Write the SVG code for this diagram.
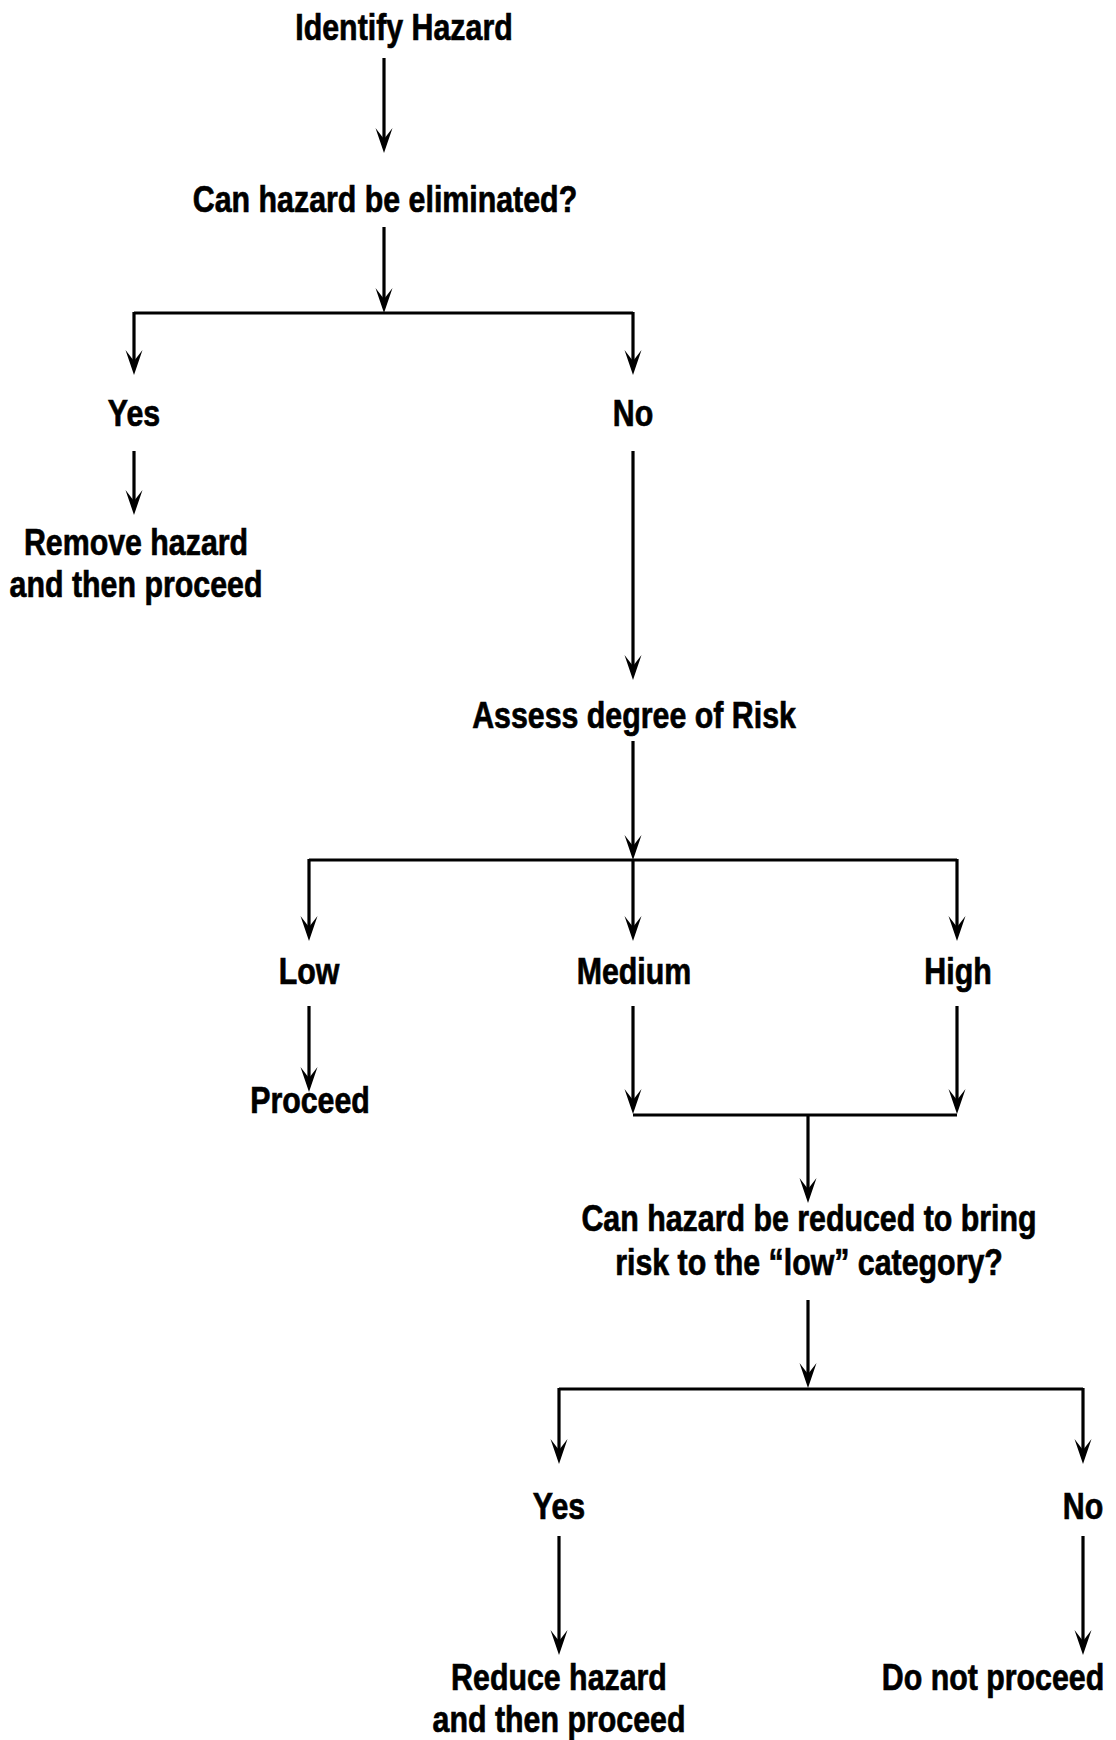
<svg xmlns="http://www.w3.org/2000/svg" width="1116" height="1740" viewBox="0 0 1116 1740">
  <style>
    .t { font-family: "Liberation Sans", Arial, sans-serif; font-weight: bold; font-size: 37px; fill: #000; stroke: #000; stroke-width: 0.7; text-anchor: middle; }
    .c { stroke: #000; stroke-width: 3.2; fill: none; }
  </style>
  <defs>
    <marker id="ah" markerUnits="userSpaceOnUse" viewBox="0 -9 26 18" markerWidth="26" markerHeight="18" refX="13" refY="0" orient="auto">
      <path d="M25,0 L0,-8.5 L11,0 L0,8.5 Z" fill="#000"/>
    </marker>
  </defs>
  <rect width="1116" height="1740" fill="#fff"/>

  <g id="connectors">
    <line class="c" x1="384" y1="58" x2="384" y2="141" marker-end="url(#ah)"/>
    <line class="c" x1="384" y1="227" x2="384" y2="301" marker-end="url(#ah)"/>
    <line class="c" x1="134" y1="313" x2="633" y2="313"/>
    <line class="c" x1="134" y1="312" x2="134" y2="363" marker-end="url(#ah)"/>
    <line class="c" x1="633" y1="312" x2="633" y2="363" marker-end="url(#ah)"/>
    <line class="c" x1="134" y1="451" x2="134" y2="503" marker-end="url(#ah)"/>
    <line class="c" x1="633" y1="451" x2="633" y2="668" marker-end="url(#ah)"/>
    <line class="c" x1="633" y1="741" x2="633" y2="848" marker-end="url(#ah)"/>
    <line class="c" x1="309" y1="860" x2="957" y2="860"/>
    <line class="c" x1="309" y1="859" x2="309" y2="929" marker-end="url(#ah)"/>
    <line class="c" x1="633" y1="859" x2="633" y2="929" marker-end="url(#ah)"/>
    <line class="c" x1="957" y1="859" x2="957" y2="929" marker-end="url(#ah)"/>
    <line class="c" x1="309" y1="1006" x2="309" y2="1080" marker-end="url(#ah)"/>
    <line class="c" x1="633" y1="1006" x2="633" y2="1102" marker-end="url(#ah)"/>
    <line class="c" x1="957" y1="1006" x2="957" y2="1102" marker-end="url(#ah)"/>
    <line class="c" x1="633" y1="1115" x2="957" y2="1115"/>
    <line class="c" x1="808" y1="1115" x2="808" y2="1191" marker-end="url(#ah)"/>
    <line class="c" x1="808" y1="1300" x2="808" y2="1376" marker-end="url(#ah)"/>
    <line class="c" x1="559" y1="1389" x2="1083" y2="1389"/>
    <line class="c" x1="559" y1="1388" x2="559" y2="1452" marker-end="url(#ah)"/>
    <line class="c" x1="1083" y1="1388" x2="1083" y2="1452" marker-end="url(#ah)"/>
    <line class="c" x1="559" y1="1536" x2="559" y2="1643" marker-end="url(#ah)"/>
    <line class="c" x1="1083" y1="1536" x2="1083" y2="1643" marker-end="url(#ah)"/>
  </g>

  <g id="identify-hazard"><text class="t" transform="translate(404,40) scale(0.82,1)">Identify Hazard</text></g>
  <g id="can-eliminate"><text class="t" transform="translate(385,212) scale(0.82,1)">Can hazard be eliminated?</text></g>
  <g id="yes-1"><text class="t" transform="translate(134,426) scale(0.82,1)">Yes</text></g>
  <g id="no-1"><text class="t" transform="translate(633,426) scale(0.82,1)">No</text></g>
  <g id="remove-hazard"><text class="t" transform="translate(136,555) scale(0.82,1)"><tspan x="0" y="0">Remove hazard</tspan><tspan x="0" y="42">and then proceed</tspan></text></g>
  <g id="assess-risk"><text class="t" transform="translate(634,728) scale(0.82,1)">Assess degree of Risk</text></g>
  <g id="low"><text class="t" transform="translate(309,984) scale(0.82,1)">Low</text></g>
  <g id="medium"><text class="t" transform="translate(634,984) scale(0.82,1)">Medium</text></g>
  <g id="high"><text class="t" transform="translate(958,984) scale(0.82,1)">High</text></g>
  <g id="proceed"><text class="t" transform="translate(310,1113) scale(0.82,1)">Proceed</text></g>
  <g id="can-reduce"><text class="t" transform="translate(809,1231) scale(0.82,1)"><tspan x="0" y="0">Can hazard be reduced to bring</tspan><tspan x="0" y="44">risk to the “low” category?</tspan></text></g>
  <g id="yes-2"><text class="t" transform="translate(559,1519) scale(0.82,1)">Yes</text></g>
  <g id="no-2"><text class="t" transform="translate(1083,1519) scale(0.82,1)">No</text></g>
  <g id="reduce-hazard"><text class="t" transform="translate(559,1690) scale(0.82,1)"><tspan x="0" y="0">Reduce hazard</tspan><tspan x="0" y="42">and then proceed</tspan></text></g>
  <g id="do-not-proceed"><text class="t" transform="translate(993,1690) scale(0.82,1)">Do not proceed</text></g>
</svg>
